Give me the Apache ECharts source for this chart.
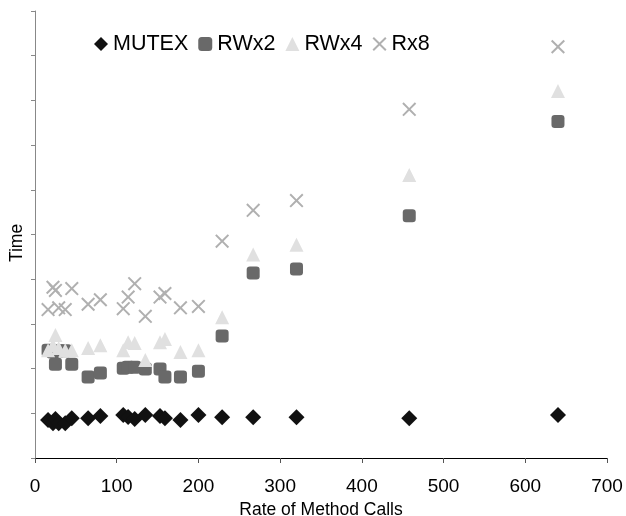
<!DOCTYPE html>
<html><head><meta charset="utf-8">
<script src="https://cdn.jsdelivr.net/npm/echarts@6/dist/echarts.min.js"></script>
<style>html,body{margin:0;padding:0;background:#fff}#c{width:626px;height:516px}</style>
</head><body><div id="c"></div>
<script>
const rates = [16,22,25,29,37,45,65,80,108,114,122,135,153,159,178,200,229,267,320,458,640];
const mutex = [0.85,0.78,0.87,0.78,0.78,0.89,0.89,0.94,0.96,0.92,0.87,0.96,0.94,0.89,0.85,0.96,0.91,0.91,0.91,0.89,0.96];
const rwx2  = [2.41,2.37,2.10,2.40,2.40,2.10,1.81,1.90,2.01,2.03,2.03,1.99,1.99,1.81,1.81,1.94,2.73,4.14,4.23,5.42,7.53];
const rwx4  = [2.41,2.52,2.75,2.46,2.41,2.41,2.46,2.52,2.41,2.59,2.57,2.19,2.59,2.66,2.37,2.41,3.15,4.55,4.77,6.33,8.21];
const rx8   = [3.32,3.82,3.75,3.36,3.32,3.79,3.44,3.54,3.34,3.60,3.90,3.17,3.60,3.68,3.36,3.39,4.85,5.54,5.76,7.80,9.20];
const xTicks = [0,100,200,300,400,500,600,700];

const pairs = v => rates.map((x,i)=>[x, v[i]]);
const crossPath = 'path://M0,1 L1,0 L5,4 L9,0 L10,1 L6,5 L10,9 L9,10 L5,6 L1,10 L0,9 L4,5 Z';
const FONT = 'Liberation Sans, Arial, sans-serif';

const chart = echarts.init(document.getElementById('c'), null, {renderer:'canvas'});
chart.setOption({
  animation:false,
  backgroundColor:'#fff',
  grid:{left:35, right:19, top:11, bottom:58, containLabel:false, outerBoundsMode:'none'},
  legend:{
    left:89, top:28, itemWidth:14, itemHeight:14, itemGap:10,
    textStyle:{fontFamily:FONT, fontSize:21.5, color:'#000'},
    data:['MUTEX','RWx2','RWx4','Rx8']
  },
  graphic:[{
    type:'text', x:17, y:243, rotation:Math.PI/2,
    style:{text:'Time', fontFamily:FONT, fontSize:17.5, fill:'#000', align:'center', verticalAlign:'middle'}
  }],
  xAxis:{
    type:'value', min:xTicks[0], max:xTicks[xTicks.length-1], interval:100,
    name:'Rate of Method Calls', nameLocation:'middle', nameGap:39,
    nameTextStyle:{fontFamily:FONT, fontSize:17.5, color:'#000'},
    axisLine:{show:true, onZero:false, lineStyle:{color:'#000', width:1}},
    axisTick:{show:true, length:5, lineStyle:{color:'#555'}},
    axisLabel:{fontFamily:FONT, fontSize:19, color:'#000', margin:19},
    splitLine:{show:false}
  },
  yAxis:{
    type:'value', min:0, max:10, interval:1,
    axisLine:{show:true, onZero:false, lineStyle:{color:'#888', width:1}},
    axisTick:{show:true, length:4, lineStyle:{color:'#888'}},
    axisLabel:{show:false},
    splitLine:{show:false}
  },
  series:[
    {name:'MUTEX', type:'scatter', symbol:'diamond', symbolSize:16,
     itemStyle:{color:'#111', opacity:1}, data:pairs(mutex)},
    {name:'RWx2', type:'scatter', symbol:'roundRect', symbolSize:13,
     itemStyle:{color:'#696969', opacity:1}, data:pairs(rwx2)},
    {name:'RWx4', type:'scatter', symbol:'triangle', symbolSize:[14,14],
     itemStyle:{color:'#e0e0e0', opacity:1}, data:pairs(rwx4)},
    {name:'Rx8', type:'scatter', symbol:crossPath, symbolSize:14,
     itemStyle:{color:'#b0b0b0', opacity:1}, data:pairs(rx8)}
  ]
});
</script></body></html>
